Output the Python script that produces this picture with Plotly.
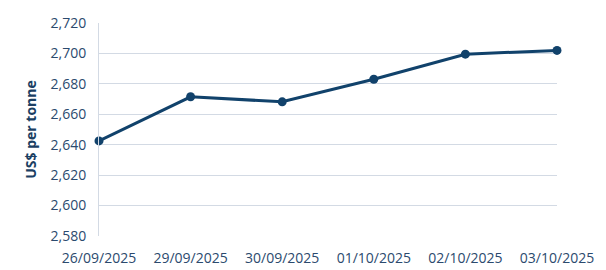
import plotly.graph_objects as go

dates = ["26/09/2025", "29/09/2025", "30/09/2025", "01/10/2025", "02/10/2025", "03/10/2025"]
prices = [2642.5, 2671.5, 2668.2, 2683.0, 2699.5, 2702.0]
y_ticks = [2580, 2600, 2620, 2640, 2660, 2680, 2700, 2720]
y_title = "US$ per tonne"

text_color = "#2b4a6e"
line_color = "#11426b"
grid_color = "#d3dae4"

fig = go.Figure(go.Scatter(
    x=dates, y=prices, mode="lines+markers",
    line=dict(color=line_color, width=3),
    marker=dict(color=line_color, size=9),
    hoverinfo="skip", cliponaxis=False,
))

fig.update_layout(
    width=606, height=270,
    margin=dict(l=99, r=49, t=23, b=34),
    paper_bgcolor="white", plot_bgcolor="white",
    font=dict(family="Open Sans", size=14, color=text_color),
    showlegend=False,
)
fig.update_xaxes(
    type="category", range=[0, 5], showgrid=False, automargin=False,
    showline=False, zeroline=False, ticks="", ticklen=0,
    ticklabelstandoff=12,
    tickfont=dict(size=14, color=text_color),
)
fig.update_yaxes(
    range=[2580, 2720], tickvals=y_ticks, tickformat=",d", automargin=False,
    showgrid=True, gridcolor=grid_color, gridwidth=1,
    zeroline=False, showline=True, linecolor=grid_color, linewidth=1,
    ticks="", ticklabelstandoff=9,
    title=dict(text=y_title, font=dict(size=14, color="#1b3f63", weight="bold"), standoff=10),
    tickfont=dict(size=14, color=text_color),
)

fig.write_html("out.html")
